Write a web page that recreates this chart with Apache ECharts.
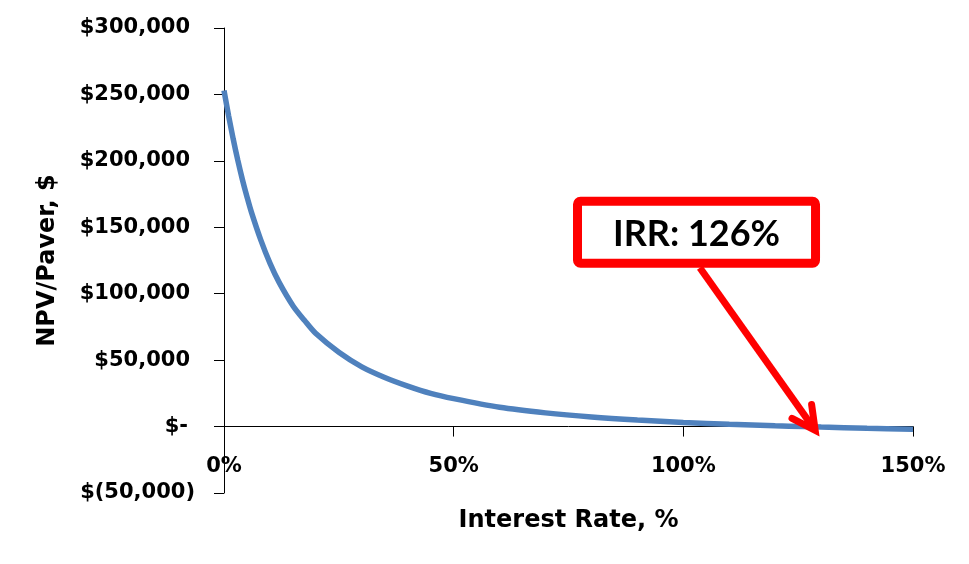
<!DOCTYPE html>
<html>
<head>
<meta charset="utf-8">
<script src="https://cdn.jsdelivr.net/npm/echarts@6/dist/echarts.min.js"></script>
<style>
html,body{margin:0;padding:0;background:#fff;}
#chart{width:969px;height:564px;}
</style>
</head>
<body>
<div id="chart"></div>
<script>
// Interest rate (%) and NPV per paver ($)
const rates = [0, 1, 2, 3, 4, 5, 6, 8, 10, 12, 15, 17.5, 20, 25, 30, 35, 40, 45, 50, 60, 70, 80, 90, 100, 110, 120, 126, 130, 140, 150];
const npv = [253000, 234000, 216500, 200500, 186000, 173000, 161000, 140500, 123000, 108500, 91000, 80000, 70000, 56000, 45000, 37000, 30500, 25000, 21000, 14500, 10300, 7200, 4900, 3100, 1700, 600, 0, -400, -1300, -2100];

const xTicks = {min: 0, max: 150, interval: 50};
const yTicks = {min: -50000, max: 300000, interval: 50000};

const xTitle = 'Interest Rate, %';
const yTitle = 'NPV/Paver, $';

// Annotation (in data coordinates)
const irrText = 'IRR: 126%';
const boxCorners = [[76.96, 169600], [128.78, 122970]]; // top-left, bottom-right of the callout box
const arrowFrom = [103.6, 119500];
const arrowTo = [128.7, -2800];

const FONT = '"DejaVu Sans", sans-serif';

function fmtY(v) {
  if (v === 0) return '{z|$-}';
  if (v < 0) return '{n|$(' + Math.abs(v).toLocaleString('en-US') + ')}';
  return '{p|$' + v.toLocaleString('en-US') + '}';
}

const chart = echarts.init(document.getElementById('chart'));
const labStyle = {fontFamily: FONT, fontWeight: 'bold', fontSize: 21, color: '#000'};
const titleStyle = {fontFamily: FONT, fontWeight: 'bold', fontSize: 24, color: '#000'};
chart.setOption({
  animation: false,
  grid: {left: 224, right: 56, top: 28, bottom: 71, outerBoundsMode: 'none', containLabel: false},
  xAxis: {
    type: 'value', min: xTicks.min, max: xTicks.max, interval: xTicks.interval,
    name: xTitle, nameLocation: 'middle', nameGap: 16, nameMoveOverlap: false,
    nameTextStyle: Object.assign({verticalAlign: 'top'}, titleStyle),
    axisLine: {onZero: true, lineStyle: {color: '#000', width: 1}},
    axisTick: {show: true, length: 10, lineStyle: {color: '#000'}},
    splitLine: {show: false},
    axisLabel: Object.assign({margin: -37, formatter: v => v + '%'}, labStyle)
  },
  yAxis: {
    type: 'value', min: yTicks.min, max: yTicks.max, interval: yTicks.interval,
    name: yTitle, nameLocation: 'middle', nameGap: 164, nameMoveOverlap: false,
    nameTextStyle: Object.assign({}, titleStyle),
    axisLine: {show: true, lineStyle: {color: '#000', width: 1}},
    axisTick: {show: true, length: 10, lineStyle: {color: '#000'}},
    splitLine: {show: false},
    axisLabel: Object.assign({
      margin: 29, formatter: fmtY,
      rich: {
        p: Object.assign({padding: [0, 5, 0, 0]}, labStyle),
        z: Object.assign({padding: [0, 7, 0, 0]}, labStyle),
        n: Object.assign({}, labStyle)
      }
    }, labStyle)
  },
  series: [{
    type: 'line',
    data: rates.map((r, i) => [r, npv[i]]),
    smooth: 0.3,
    showSymbol: false,
    lineStyle: {color: '#4F81BD', width: 5.5},
    z: 3
  }]
});

function drawAnnotation() {
  const p1 = chart.convertToPixel({gridIndex: 0}, boxCorners[0]);
  const p2 = chart.convertToPixel({gridIndex: 0}, boxCorners[1]);
  const a0 = chart.convertToPixel({gridIndex: 0}, arrowFrom);
  const a1 = chart.convertToPixel({gridIndex: 0}, arrowTo);
  const ang = Math.atan2(a1[1] - a0[1], a1[0] - a0[0]);
  const headLen = 26, headAng = 0.48;
  const h1 = [a1[0] - headLen * Math.cos(ang - headAng), a1[1] - headLen * Math.sin(ang - headAng)];
  const h2 = [a1[0] - headLen * Math.cos(ang + headAng), a1[1] - headLen * Math.sin(ang + headAng)];
  chart.setOption({
    graphic: [
      {type: 'line', shape: {x1: a0[0], y1: a0[1], x2: a1[0], y2: a1[1]},
       style: {stroke: '#FF0000', lineWidth: 7, lineCap: 'butt'}, z: 10},
      {type: 'polyline', shape: {points: [h1, a1, h2]},
       style: {stroke: '#FF0000', lineWidth: 7, lineCap: 'round', lineJoin: 'miter', fill: null}, z: 10},
      {type: 'rect', shape: {x: p1[0], y: p1[1], width: p2[0] - p1[0], height: p2[1] - p1[1], r: 3},
       style: {fill: '#fff', stroke: '#FF0000', lineWidth: 9}, z: 11},
      {type: 'text', x: (p1[0] + p2[0]) / 2, y: (p1[1] + p2[1]) / 2 + 2,
       style: {text: irrText, fontFamily: 'Lato', fontWeight: 'bold', fontSize: 36, fill: '#000',
               align: 'center', verticalAlign: 'middle'}, z: 12}
    ]
  });
}
drawAnnotation();
</script>
</body>
</html>
